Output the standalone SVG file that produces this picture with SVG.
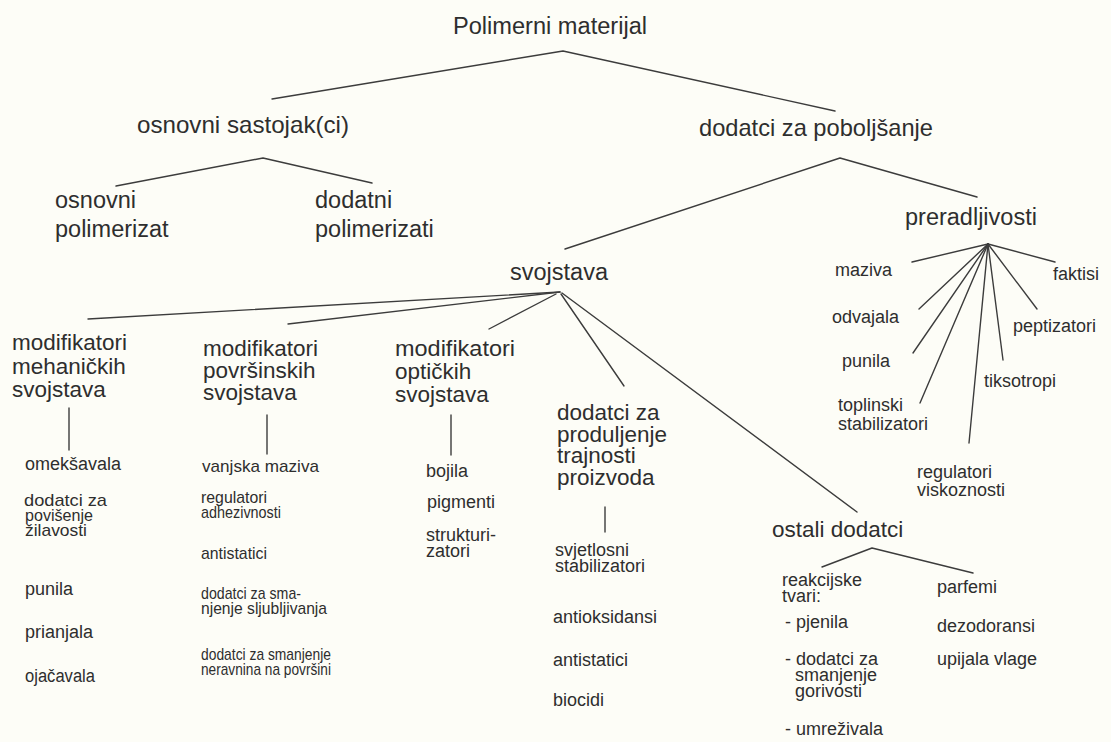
<svg xmlns="http://www.w3.org/2000/svg" width="1111" height="742" viewBox="0 0 1111 742">
<style>
text{font-family:"Liberation Sans",Arial,sans-serif;fill:#2e2e2e}
.f1{font-size:23.5px}
.f2{font-size:24px}
.f3{font-size:23.5px}
.f4{font-size:22.5px}
.f5{font-size:18px}
.f6{font-size:17px}
.c line,.c polyline{stroke:#3c3c3c;stroke-width:1.4;fill:none;stroke-linecap:round;stroke-linejoin:round}
</style>
<rect width="1111" height="742" fill="#fdfdf7"/>
<g class="c" id="connectors">
<polyline points="272,99 563,51 835,111"/>
<polyline points="116,186 263,158 372,183"/>
<polyline points="565,249 840,158 977,197"/>
<line x1="560" y1="292" x2="88" y2="319"/>
<line x1="560" y1="292" x2="288" y2="324"/>
<line x1="556" y1="294" x2="489" y2="329"/>
<line x1="561" y1="294" x2="624" y2="386"/>
<line x1="562" y1="293" x2="857" y2="512"/>
<line x1="69" y1="408" x2="69" y2="450"/>
<line x1="267" y1="415" x2="267" y2="454"/>
<line x1="451" y1="415" x2="451" y2="455"/>
<line x1="605" y1="507" x2="605" y2="532"/>
<line x1="988" y1="244" x2="912" y2="262"/>
<line x1="988" y1="244" x2="1055" y2="262"/>
<line x1="988" y1="244" x2="919" y2="309"/>
<line x1="988" y1="244" x2="913" y2="353"/>
<line x1="988" y1="244" x2="920" y2="403"/>
<line x1="988" y1="244" x2="969" y2="443"/>
<line x1="988" y1="244" x2="1003" y2="360"/>
<line x1="988" y1="244" x2="1037" y2="309"/>
<polyline points="822,567 872,548 973,573"/>
</g>
<g id="polimerni-materijal"><text class="f1" x="453" y="34" textLength="194" lengthAdjust="spacingAndGlyphs">Polimerni materijal</text></g>
<g id="osnovni-sastojak"><text class="f2" x="137" y="133" textLength="212" lengthAdjust="spacingAndGlyphs">osnovni sastojak(ci)</text></g>
<g id="dodatci-za-poboljsanje"><text class="f2" x="699" y="136" textLength="234" lengthAdjust="spacingAndGlyphs">dodatci za poboljšanje</text></g>
<g id="osnovni-polimerizat"><text class="f3" x="55" y="208">osnovni</text><text class="f3" x="55" y="237">polimerizat</text></g>
<g id="dodatni-polimerizati"><text class="f3" x="315" y="208">dodatni</text><text class="f3" x="315" y="237">polimerizati</text></g>
<g id="preradljivosti"><text class="f3" x="905" y="225">preradljivosti</text></g>
<g id="svojstava"><text class="f3" x="510" y="280">svojstava</text></g>
<g id="mod-meh"><text class="f4" x="12" y="350">modifikatori</text><text class="f4" x="12" y="374">mehaničkih</text><text class="f4" x="12" y="397">svojstava</text></g>
<g id="mod-pov"><text class="f4" x="203" y="356">modifikatori</text><text class="f4" x="203" y="378">površinskih</text><text class="f4" x="203" y="400">svojstava</text></g>
<g id="mod-opt"><text class="f4" x="395" y="356" textLength="120" lengthAdjust="spacingAndGlyphs">modifikatori</text><text class="f4" x="395" y="379">optičkih</text><text class="f4" x="395" y="402">svojstava</text></g>
<g id="dod-prod"><text class="f4" x="557" y="420">dodatci za</text><text class="f4" x="557" y="442">produljenje</text><text class="f4" x="557" y="463">trajnosti</text><text class="f4" x="557" y="485">proizvoda</text></g>
<g id="ostali-dodatci"><text class="f4" x="772" y="537">ostali dodatci</text></g>
<g id="meh-items">
<text class="f5" x="25" y="470">omekšavala</text>
<text class="f6" x="24" y="506" textLength="83" lengthAdjust="spacingAndGlyphs">dodatci za</text>
<text class="f6" x="25" y="521" textLength="68" lengthAdjust="spacingAndGlyphs">povišenje</text>
<text class="f6" x="25" y="536" textLength="62" lengthAdjust="spacingAndGlyphs">žilavosti</text>
<text class="f5" x="25" y="595">punila</text>
<text class="f5" x="25" y="638">prianjala</text>
<text class="f5" x="25" y="682" textLength="70" lengthAdjust="spacingAndGlyphs">ojačavala</text>
</g>
<g id="pov-items">
<text class="f6" x="202" y="472" textLength="117" lengthAdjust="spacingAndGlyphs">vanjska maziva</text>
<text class="f6" x="201" y="503" textLength="66" lengthAdjust="spacingAndGlyphs">regulatori</text>
<text class="f6" x="201" y="518" textLength="80" lengthAdjust="spacingAndGlyphs">adhezivnosti</text>
<text class="f6" x="201" y="559" textLength="66" lengthAdjust="spacingAndGlyphs">antistatici</text>
<text class="f6" x="201" y="599" textLength="100" lengthAdjust="spacingAndGlyphs">dodatci za sma-</text>
<text class="f6" x="201" y="614" textLength="126" lengthAdjust="spacingAndGlyphs">njenje sljubljivanja</text>
<text class="f6" x="201" y="660" textLength="130" lengthAdjust="spacingAndGlyphs">dodatci za smanjenje</text>
<text class="f6" x="201" y="675" textLength="130" lengthAdjust="spacingAndGlyphs">neravnina na površini</text>
</g>
<g id="opt-items">
<text class="f5" x="426" y="477">bojila</text>
<text class="f5" x="427" y="508">pigmenti</text>
<text class="f5" x="426" y="541">strukturi-</text>
<text class="f5" x="426" y="557">zatori</text>
</g>
<g id="prod-items">
<text class="f5" x="555" y="556">svjetlosni</text>
<text class="f5" x="555" y="572">stabilizatori</text>
<text class="f5" x="553" y="623">antioksidansi</text>
<text class="f5" x="553" y="666">antistatici</text>
<text class="f5" x="553" y="706">biocidi</text>
</g>
<g id="ostali-items">
<text class="f5" x="782" y="586">reakcijske</text>
<text class="f5" x="782" y="602">tvari:</text>
<text class="f5" x="785" y="628">- pjenila</text>
<text class="f5" x="785" y="665">- dodatci za</text>
<text class="f5" x="795" y="681">smanjenje</text>
<text class="f5" x="795" y="697">gorivosti</text>
<text class="f5" x="785" y="735">- umreživala</text>
<text class="f5" x="937" y="593">parfemi</text>
<text class="f5" x="937" y="632">dezodoransi</text>
<text class="f5" x="937" y="665">upijala vlage</text>
</g>
<g id="prerad-items">
<text class="f5" x="835" y="276">maziva</text>
<text class="f5" x="1053" y="280">faktisi</text>
<text class="f5" x="832" y="323">odvajala</text>
<text class="f5" x="1013" y="332">peptizatori</text>
<text class="f5" x="842" y="367">punila</text>
<text class="f5" x="984" y="387">tiksotropi</text>
<text class="f5" x="838" y="411">toplinski</text>
<text class="f5" x="838" y="430">stabilizatori</text>
<text class="f5" x="917" y="478">regulatori</text>
<text class="f5" x="917" y="496">viskoznosti</text>
</g>
</svg>
